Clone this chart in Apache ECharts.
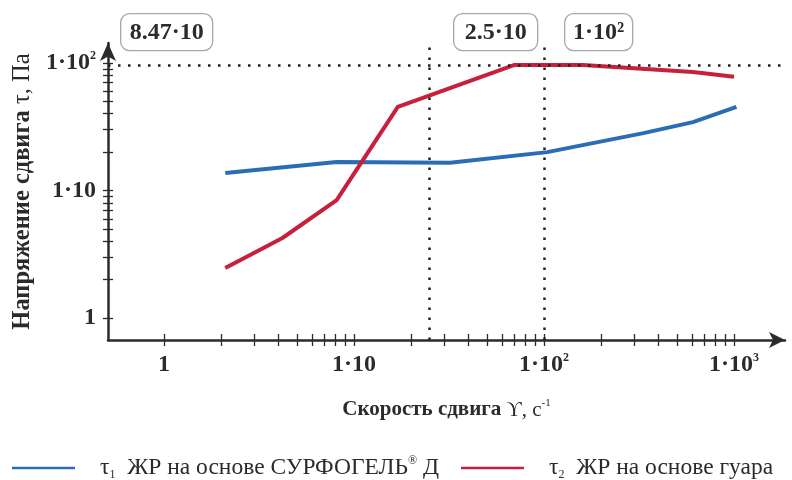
<!DOCTYPE html>
<html>
<head>
<meta charset="utf-8">
<script src="https://cdn.jsdelivr.net/npm/echarts@6/dist/echarts.min.js"></script>
<style>
  html, body { margin: 0; padding: 0; background: #fff; }
  #app { width: 792px; height: 480px; }
</style>
</head>
<body>
<div id="app"></div>
<script>
// скорость сдвига, с-1 и напряжение сдвига, Па
const rateSurf = [2.1, 8.1, 32, 104, 334, 608, 1030];
const tauSurf = [13.7, 16.7, 16.5, 20, 28.2, 34.4, 45.2];
const rateGuar = [2.1, 4.2, 8.1, 17, 70, 160, 608, 1000];
const tauGuar = [2.47, 4.24, 8.4, 45.2, 96.5, 96.5, 85, 78];

const seriesNames = ['τ1', 'τ2'];

// деления логарифмических осей
const xTicks = [1, 2, 3, 4, 5, 6, 7, 8, 9, 10, 20, 30, 40, 50, 60, 70, 80, 90, 100, 200, 300, 400, 500, 600, 700, 800, 900, 1000];
const yTicks = [1, 2, 3, 4, 5, 6, 7, 8, 9, 10, 20, 30, 40, 50, 60, 70, 80, 90, 100];
const xLabels = [1, 10, 100, 1000];
const yLabels = [1, 10, 100];
const labelText = ['{b|1}', '{b|1·10}', '{b|1·10}{sup|2}', '{b|1·10}{sup|3}'];

// пунктирные отметки
const markRates = [25, 100];
const markTau = 96;
const notes = ['8.47·10', '2.5·10', '1·10²'];

const X_MIN = 0.507, X_MAX = 1855;
const Y_MIN = 0.672, Y_MAX = 143.5;

const serif = '"Liberation Serif", "DejaVu Serif", serif';
const ink = '#2b2b2b';

const labelRich = {
  b: { fontFamily: serif, fontWeight: 'bold', fontSize: 24, color: ink, lineHeight: 26 },
  sup: { fontFamily: serif, fontWeight: 'bold', fontSize: 12, color: ink, verticalAlign: 'top', lineHeight: 12 }
};

const fmt = (v) => labelText[Math.round(v)];

const axisLineStyle = { color: ink, width: 2.5 };
const tickStyle = { color: ink, width: 1.3 };

const myChart = echarts.init(document.getElementById('app'), null, { renderer: 'canvas' });

const option = {
  animation: false,
  backgroundColor: '#fff',
  grid: {
    left: 108,
    right: 7,
    top: 43,
    bottom: 140,
    containLabel: false,
    outerBoundsMode: 'none'
  },
  legend: {
    left: 12,
    top: 455,
    padding: 0,
    icon: 'rect',
    itemWidth: 63,
    itemHeight: 2.5,
    itemGap: 22,
    data: seriesNames,
    formatter: (name) => {
      if (name === 'τ1') {
        return '{t|τ}{sub|1}{n|  ЖР на основе СУРФОГЕЛЬ}{sup|®}{n| Д}';
      }
      return '{t|τ}{sub|2}{n|  ЖР на основе гуара}';
    },
    textStyle: {
      rich: {
        t: { fontFamily: serif, fontSize: 23.5, color: ink, padding: [0, 0, 0, 20], lineHeight: 26 },
        n: { fontFamily: serif, fontSize: 23.5, color: ink, lineHeight: 26 },
        sub: { fontFamily: serif, fontSize: 12, color: ink, verticalAlign: 'bottom', lineHeight: 12 },
        sup: { fontFamily: serif, fontSize: 12, color: ink, verticalAlign: 'top', lineHeight: 12 }
      }
    }
  },
  xAxis: [
    {
      // ось для данных
      type: 'log',
      logBase: 10,
      min: X_MIN,
      max: X_MAX,
      show: false
    },
    {
      type: 'value',
      position: 'bottom',
      min: Math.log10(X_MIN),
      max: Math.log10(X_MAX),
      axisLine: {
        show: true,
        onZero: false,
        symbol: ['none', 'arrow'],
        symbolSize: [12, 16],
        lineStyle: axisLineStyle
      },
      axisTick: {
        show: true,
        inside: false,
        length: 6,
        customValues: xTicks.map(Math.log10),
        lineStyle: tickStyle
      },
      axisLabel: {
        show: true,
        margin: 12,
        customValues: xLabels.map(Math.log10),
        formatter: fmt,
        rich: labelRich
      },
      splitLine: { show: false },
      name: '{b|Скорость сдвига }{r|ϒ, с}{sup|-1}',
      nameLocation: 'middle',
      nameGap: 58,
      nameTextStyle: {
        rich: {
          b: { fontFamily: serif, fontWeight: 'bold', fontSize: 21, color: ink, lineHeight: 24 },
          r: { fontFamily: serif, fontSize: 21, color: ink, lineHeight: 24 },
          sup: { fontFamily: serif, fontSize: 11, color: ink, verticalAlign: 'top', lineHeight: 11 }
        }
      }
    },
    {
      // внутренние половинки делений
      type: 'value',
      position: 'bottom',
      min: Math.log10(X_MIN),
      max: Math.log10(X_MAX),
      axisLine: { show: false, onZero: false },
      axisTick: {
        show: true,
        inside: true,
        length: 6,
        customValues: xTicks.map(Math.log10),
        lineStyle: tickStyle
      },
      axisLabel: { show: false },
      splitLine: { show: false }
    }
  ],
  yAxis: [
    {
      type: 'log',
      logBase: 10,
      min: Y_MIN,
      max: Y_MAX,
      show: false
    },
    {
      type: 'value',
      position: 'left',
      min: Math.log10(Y_MIN),
      max: Math.log10(Y_MAX),
      axisLine: {
        show: true,
        onZero: false,
        symbol: ['none', 'arrow'],
        symbolSize: [12, 18],
        lineStyle: axisLineStyle
      },
      axisTick: {
        show: true,
        inside: false,
        length: 5,
        customValues: yTicks.map(Math.log10),
        lineStyle: tickStyle
      },
      axisLabel: {
        show: true,
        margin: 12,
        customValues: yLabels.map(Math.log10),
        formatter: fmt,
        rich: labelRich
      },
      splitLine: { show: false },
      name: '{b|Напряжение сдвига }{r|τ, Па}',
      nameLocation: 'middle',
      nameGap: 72,
      nameTextStyle: {
        rich: {
          b: { fontFamily: serif, fontWeight: 'bold', fontSize: 24.5, color: ink, lineHeight: 26 },
          r: { fontFamily: serif, fontSize: 24.5, color: ink, lineHeight: 26 }
        }
      }
    },
    {
      type: 'value',
      position: 'left',
      min: Math.log10(Y_MIN),
      max: Math.log10(Y_MAX),
      axisLine: { show: false, onZero: false },
      axisTick: {
        show: true,
        inside: true,
        length: 5,
        customValues: yTicks.map(Math.log10),
        lineStyle: tickStyle
      },
      axisLabel: { show: false },
      splitLine: { show: false }
    }
  ],
  series: [
    {
      name: 'τ1',
      type: 'line',
      xAxisIndex: 0,
      yAxisIndex: 0,
      data: rateSurf.map((r, i) => [r, tauSurf[i]]),
      showSymbol: false,
      color: '#2a6db4',
      lineStyle: { width: 4, color: '#2a6db4' },
      z: 3
    },
    {
      name: 'τ2',
      type: 'line',
      xAxisIndex: 0,
      yAxisIndex: 0,
      data: rateGuar.map((r, i) => [r, tauGuar[i]]),
      showSymbol: false,
      color: '#c81f3a',
      lineStyle: { width: 4, color: '#c81f3a' },
      z: 4,
      markLine: {
        silent: true,
        symbol: 'none',
        label: { show: false },
        lineStyle: { type: [2.5, 7.5], color: '#222', width: 2.5 },
        data: [
          { xAxis: markRates[0] },
          { xAxis: markRates[1] },
          { yAxis: markTau }
        ]
      }
    }
  ],
  graphic: [
    { x: 120, y: 13, w: 92 },
    { x: 453, y: 13, w: 84 },
    { x: 564, y: 13, w: 68 }
  ].map((b, i) => ({
    type: 'group',
    left: b.x,
    top: b.y,
    children: [
      {
        type: 'rect',
        shape: { x: 0, y: 0, width: b.w, height: 37, r: 9 },
        style: { fill: '#fff', stroke: '#a8a8a8', lineWidth: 1.3 }
      },
      {
        type: 'text',
        x: b.w / 2,
        y: 19,
        style: {
          text: notes[i],
          font: 'bold 24px ' + serif,
          fill: ink,
          align: 'center',
          verticalAlign: 'middle'
        }
      }
    ]
  }))
};

myChart.setOption(option);
</script>
</body>
</html>
